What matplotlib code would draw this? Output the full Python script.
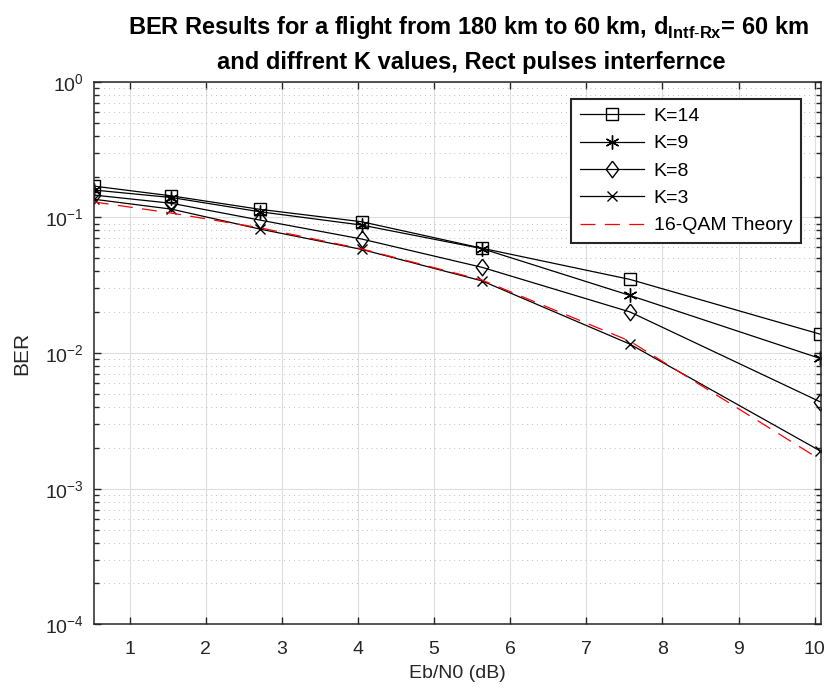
#!/usr/bin/env python3
import matplotlib
matplotlib.use('Agg')
import matplotlib.pyplot as plt  # noqa: E402
from matplotlib.ticker import LogLocator, NullLocator  # noqa: E402

# Eb/N0 points (dB)
ebn0 = [0.53, 1.55, 2.71, 4.05, 5.63, 7.57, 10.07]

ber_k14 = [0.170, 0.144, 0.1146, 0.0928, 0.0592, 0.0349, 0.01377]
ber_k9 = [0.159, 0.140, 0.110, 0.0877, 0.0588, 0.0266, 0.00912]
ber_k8 = [0.146, 0.127, 0.0955, 0.0692, 0.0428, 0.0201, 0.00437]
ber_k3 = [0.136, 0.115, 0.082, 0.058, 0.0340, 0.01164, 0.00190]
ber_theory = [0.130, 0.1075, 0.0838, 0.0585, 0.0345, 0.01225, 0.00164]

labels = ['K=14', 'K=9', 'K=8', 'K=3', '16-QAM Theory']

TITLE_FONT = 'Liberation Sans'
DIAMOND = [(0, 1), (0.75, 0), (0, -1), (-0.75, 0), (0, 1)]

plt.rcParams['font.family'] = ['Liberation Sans', 'DejaVu Sans']
plt.rcParams['mathtext.fontset'] = 'custom'
plt.rcParams['mathtext.rm'] = 'Liberation Sans'
plt.rcParams['mathtext.bf'] = 'Liberation Sans:bold'

fig = plt.figure(figsize=(8.25, 6.94), dpi=100)
ax = fig.add_axes([0.1136, 0.1004, 0.8814, 0.7819])

ax.semilogy(ebn0, ber_k14, '-', color='k', lw=0.9, marker='s', ms=8,
            mfc='none', mec='k', label=labels[0])
ax.semilogy(ebn0, ber_k9, '-', color='k', lw=0.9, marker=(6, 2, 0), ms=10,
            mec='k', label=labels[1])
ax.semilogy(ebn0, ber_k8, '-', color='k', lw=0.9, marker=DIAMOND, ms=12,
            mfc='none', mec='k', label=labels[2])
ax.semilogy(ebn0, ber_k3, '-', color='k', lw=0.9, marker='x', ms=7,
            mec='k', label=labels[3])
ax.semilogy(ebn0, ber_theory, '--', color='red', lw=0.9, dashes=(12, 7.5),
            label=labels[4])

ax.set_xlim(0.53, 10.08)
ax.set_ylim(1e-4, 1)
ax.set_xticks(range(1, 11))
ax.xaxis.set_minor_locator(NullLocator())
ax.yaxis.set_minor_locator(LogLocator(base=10, subs=range(2, 10), numticks=20))

ax.grid(True, which='major', color='#dedede', lw=0.8, ls='-')
ax.grid(True, which='minor', axis='y', color='#bdbdbd', lw=0.7, ls=(0, (1, 4)))
ax.set_axisbelow(True)

ax.tick_params(which='both', direction='in', top=True, right=True,
               labelsize=14, colors='#262626', width=1.0)
ax.tick_params(axis='x', which='major', length=5, pad=12)
ax.tick_params(axis='y', which='major', length=5, pad=7)
ax.tick_params(which='minor', length=3.5)
for s in ax.spines.values():
    s.set_color('#262626')
    s.set_linewidth(1.1)

ax.set_xlabel('Eb/N0 (dB)', fontsize=14, color='#262626', labelpad=5)
ax.set_ylabel('BER', fontsize=15, color='#262626')
ax.yaxis.set_label_coords(-0.086, 0.5)

fig.text(0.568, 0.960,
         r'BER Results for a flight from 180 km to 60 km, d$_{\mathbf{Intf\text{-}Rx}}$= 60 km',
         ha='center', va='center', fontsize=17, fontweight='bold',
         family=TITLE_FONT)
fig.text(0.571, 0.910, 'and diffrent K values, Rect pulses interfernce',
         ha='center', va='center', fontsize=17, fontweight='bold',
         family=TITLE_FONT)

leg = ax.legend(loc='upper right', fontsize=14, fancybox=False, framealpha=1,
                edgecolor='#262626', handlelength=3.3, handletextpad=0.5,
                borderpad=0.45, labelspacing=0.5, borderaxespad=0,
                bbox_to_anchor=(0.9725, 0.9686))
leg.get_frame().set_linewidth(1.5)

fig.savefig('out.png', dpi=100)
